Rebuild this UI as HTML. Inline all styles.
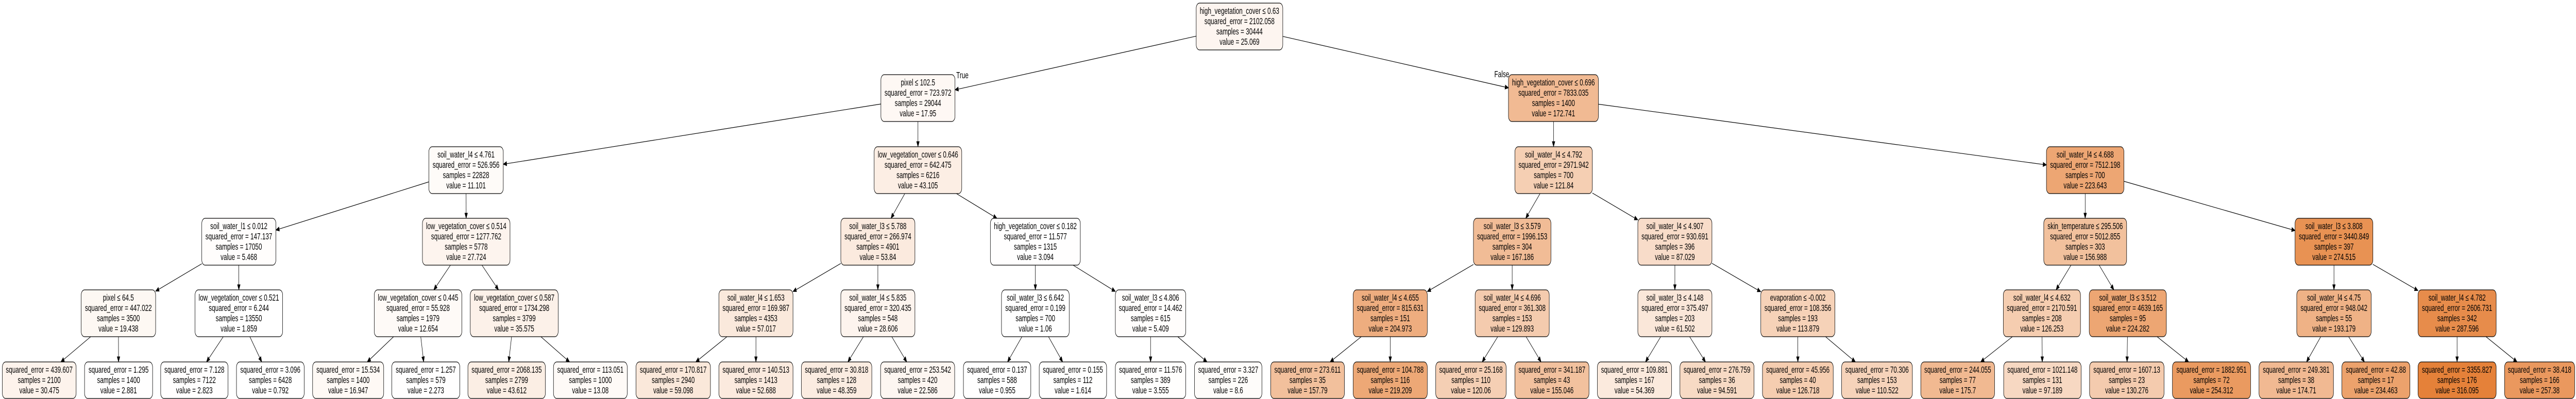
<!DOCTYPE html>
<html><head><meta charset="utf-8"><style>
html,body{margin:0;padding:0;background:#fff;width:100vw;height:100vh;overflow:hidden}
svg{display:block;width:100vw;height:100vh}
svg text{font-family:"Liberation Sans",Arial,sans-serif;font-size:18px;text-anchor:middle;fill:#000}
svg rect{stroke:#000;stroke-width:1.2}
</style></head><body>
<svg id="s" xmlns="http://www.w3.org/2000/svg" viewBox="0 0 7647 775" preserveAspectRatio="none">
<g id="edges"></g>
<g id="nodes">
<rect id="root" x="3551" y="6" width="257" height="91" rx="10" fill="#fdf5f0"/>
<text x="3679.5" y="27">high_vegetation_cover ≤ 0.63</text><text x="3679.5" y="47">squared_error = 2102.058</text><text x="3679.5" y="67">samples = 30444</text><text x="3679.5" y="87">value = 25.069</text>
<rect id="A" x="2615" y="145" width="220" height="91" rx="10" fill="#fef8f4"/>
<text x="2725" y="166">pixel ≤ 102.5</text><text x="2725" y="186">squared_error = 723.972</text><text x="2725" y="206">samples = 29044</text><text x="2725" y="226">value = 17.95</text>
<rect id="B" x="4478" y="145" width="267" height="91" rx="10" fill="#f1ba93"/>
<text x="4611.5" y="166">high_vegetation_cover ≤ 0.696</text><text x="4611.5" y="186">squared_error = 7833.035</text><text x="4611.5" y="206">samples = 1400</text><text x="4611.5" y="226">value = 172.741</text>
<text x="2857" y="152">True</text>
<text x="4458" y="150">False</text>
<rect id="C" x="1273" y="285" width="221" height="91" rx="10" fill="#fefbf8"/>
<text x="1383.5" y="306">soil_water_l4 ≤ 4.761</text><text x="1383.5" y="326">squared_error = 526.956</text><text x="1383.5" y="346">samples = 22828</text><text x="1383.5" y="366">value = 11.101</text>
<rect id="D" x="2595" y="285" width="260" height="91" rx="10" fill="#fceee4"/>
<text x="2725" y="306">low_vegetation_cover ≤ 0.646</text><text x="2725" y="326">squared_error = 642.475</text><text x="2725" y="346">samples = 6216</text><text x="2725" y="366">value = 43.105</text>
<rect id="E" x="4497" y="285" width="230" height="91" rx="10" fill="#f5cfb3"/>
<text x="4612" y="306">soil_water_l4 ≤ 4.792</text><text x="4612" y="326">squared_error = 2971.942</text><text x="4612" y="346">samples = 700</text><text x="4612" y="366">value = 121.84</text>
<rect id="F" x="6075" y="285" width="230" height="91" rx="10" fill="#eda673"/>
<text x="6190" y="306">soil_water_l4 ≤ 4.688</text><text x="6190" y="326">squared_error = 7512.198</text><text x="6190" y="346">samples = 700</text><text x="6190" y="366">value = 223.643</text>
<rect id="G" x="599" y="424" width="220" height="91" rx="10" fill="#fffdfc"/>
<text x="709" y="445">soil_water_l1 ≤ 0.012</text><text x="709" y="465">squared_error = 147.137</text><text x="709" y="485">samples = 17050</text><text x="709" y="505">value = 5.468</text>
<rect id="H" x="1254" y="424" width="260" height="91" rx="10" fill="#fdf4ee"/>
<text x="1384" y="445">low_vegetation_cover ≤ 0.514</text><text x="1384" y="465">squared_error = 1277.762</text><text x="1384" y="485">samples = 5778</text><text x="1384" y="505">value = 27.724</text>
<rect id="I" x="2496" y="424" width="220" height="91" rx="10" fill="#fbeade"/>
<text x="2606" y="445">soil_water_l3 ≤ 5.788</text><text x="2606" y="465">squared_error = 266.974</text><text x="2606" y="485">samples = 4901</text><text x="2606" y="505">value = 53.84</text>
<rect id="J" x="2940" y="424" width="267" height="91" rx="10" fill="#fffefe"/>
<text x="3073.5" y="445">high_vegetation_cover ≤ 0.182</text><text x="3073.5" y="465">squared_error = 11.577</text><text x="3073.5" y="485">samples = 1315</text><text x="3073.5" y="505">value = 3.094</text>
<rect id="K" x="4374" y="424" width="230" height="91" rx="10" fill="#f1bc96"/>
<text x="4489" y="445">soil_water_l3 ≤ 3.579</text><text x="4489" y="465">squared_error = 1996.153</text><text x="4489" y="485">samples = 304</text><text x="4489" y="505">value = 167.186</text>
<rect id="L" x="4862" y="424" width="220" height="91" rx="10" fill="#f8dcc9"/>
<text x="4972" y="445">soil_water_l4 ≤ 4.907</text><text x="4972" y="465">squared_error = 930.691</text><text x="4972" y="485">samples = 396</text><text x="4972" y="505">value = 87.029</text>
<rect id="M" x="6067" y="424" width="246" height="91" rx="10" fill="#f2c19d"/>
<text x="6190" y="445">skin_temperature ≤ 295.506</text><text x="6190" y="465">squared_error = 5012.855</text><text x="6190" y="485">samples = 303</text><text x="6190" y="505">value = 156.988</text>
<rect id="N" x="6813" y="424" width="231" height="91" rx="10" fill="#e89253"/>
<text x="6928.5" y="445">soil_water_l3 ≤ 3.808</text><text x="6928.5" y="465">squared_error = 3440.849</text><text x="6928.5" y="485">samples = 397</text><text x="6928.5" y="505">value = 274.515</text>
<rect id="O" x="241" y="563" width="221" height="91" rx="10" fill="#fdf8f3"/>
<text x="351.5" y="584">pixel ≤ 64.5</text><text x="351.5" y="604">squared_error = 447.022</text><text x="351.5" y="624">samples = 3500</text><text x="351.5" y="644">value = 19.438</text>
<rect id="P" x="579" y="563" width="260" height="91" rx="10" fill="#ffffff"/>
<text x="709" y="584">low_vegetation_cover ≤ 0.521</text><text x="709" y="604">squared_error = 6.244</text><text x="709" y="624">samples = 13550</text><text x="709" y="644">value = 1.859</text>
<rect id="Q" x="1111" y="563" width="260" height="91" rx="10" fill="#fefaf7"/>
<text x="1241" y="584">low_vegetation_cover ≤ 0.445</text><text x="1241" y="604">squared_error = 55.928</text><text x="1241" y="624">samples = 1979</text><text x="1241" y="644">value = 12.654</text>
<rect id="R" x="1396" y="563" width="261" height="91" rx="10" fill="#fcf1e9"/>
<text x="1526.5" y="584">low_vegetation_cover ≤ 0.587</text><text x="1526.5" y="604">squared_error = 1734.298</text><text x="1526.5" y="624">samples = 3799</text><text x="1526.5" y="644">value = 35.575</text>
<rect id="S" x="2134" y="563" width="220" height="91" rx="10" fill="#fae9dc"/>
<text x="2244" y="584">soil_water_l4 ≤ 1.653</text><text x="2244" y="604">squared_error = 169.987</text><text x="2244" y="624">samples = 4353</text><text x="2244" y="644">value = 57.017</text>
<rect id="T" x="2496" y="563" width="220" height="91" rx="10" fill="#fdf4ee"/>
<text x="2606" y="584">soil_water_l4 ≤ 5.835</text><text x="2606" y="604">squared_error = 320.435</text><text x="2606" y="624">samples = 548</text><text x="2606" y="644">value = 28.606</text>
<rect id="U" x="2973" y="563" width="201" height="91" rx="10" fill="#ffffff"/>
<text x="3073.5" y="584">soil_water_l3 ≤ 6.642</text><text x="3073.5" y="604">squared_error = 0.199</text><text x="3073.5" y="624">samples = 700</text><text x="3073.5" y="644">value = 1.06</text>
<rect id="V" x="3311" y="563" width="209" height="91" rx="10" fill="#fffdfc"/>
<text x="3415.5" y="584">soil_water_l3 ≤ 4.806</text><text x="3415.5" y="604">squared_error = 14.462</text><text x="3415.5" y="624">samples = 615</text><text x="3415.5" y="644">value = 5.409</text>
<rect id="W" x="4017" y="563" width="220" height="91" rx="10" fill="#eead7f"/>
<text x="4127" y="584">soil_water_l4 ≤ 4.655</text><text x="4127" y="604">squared_error = 815.631</text><text x="4127" y="624">samples = 151</text><text x="4127" y="644">value = 204.973</text>
<rect id="X" x="4379" y="563" width="220" height="91" rx="10" fill="#f4cbae"/>
<text x="4489" y="584">soil_water_l4 ≤ 4.696</text><text x="4489" y="604">squared_error = 361.308</text><text x="4489" y="624">samples = 153</text><text x="4489" y="644">value = 129.893</text>
<rect id="Y" x="4862" y="563" width="220" height="91" rx="10" fill="#fae7d9"/>
<text x="4972" y="584">soil_water_l3 ≤ 4.148</text><text x="4972" y="604">squared_error = 375.497</text><text x="4972" y="624">samples = 203</text><text x="4972" y="644">value = 61.502</text>
<rect id="Z" x="5227" y="563" width="220" height="91" rx="10" fill="#f6d2b8"/>
<text x="5337" y="584">evaporation ≤ -0.002</text><text x="5337" y="604">squared_error = 108.356</text><text x="5337" y="624">samples = 193</text><text x="5337" y="644">value = 113.879</text>
<rect id="AA" x="5947" y="563" width="229" height="91" rx="10" fill="#f5cdb0"/>
<text x="6061.5" y="584">soil_water_l4 ≤ 4.632</text><text x="6061.5" y="604">squared_error = 2170.591</text><text x="6061.5" y="624">samples = 208</text><text x="6061.5" y="644">value = 126.253</text>
<rect id="AB" x="6202" y="563" width="229" height="91" rx="10" fill="#eda673"/>
<text x="6316.5" y="584">soil_water_l3 ≤ 3.512</text><text x="6316.5" y="604">squared_error = 4639.165</text><text x="6316.5" y="624">samples = 95</text><text x="6316.5" y="644">value = 224.282</text>
<rect id="AC" x="6818" y="563" width="221" height="91" rx="10" fill="#efb286"/>
<text x="6928.5" y="584">soil_water_l4 ≤ 4.75</text><text x="6928.5" y="604">squared_error = 948.042</text><text x="6928.5" y="624">samples = 55</text><text x="6928.5" y="644">value = 193.179</text>
<rect id="AD" x="7178" y="563" width="232" height="91" rx="10" fill="#e78c4b"/>
<text x="7294" y="584">soil_water_l4 ≤ 4.782</text><text x="7294" y="604">squared_error = 2606.731</text><text x="7294" y="624">samples = 342</text><text x="7294" y="644">value = 287.596</text>
<rect id="l0" x="7" y="703" width="219" height="71" rx="10" fill="#fdf3ec"/><text x="116.5" y="724">squared_error = 439.607</text><text x="116.5" y="744">samples = 2100</text><text x="116.5" y="764">value = 30.475</text>
<rect id="l1" x="251" y="703" width="202" height="71" rx="10" fill="#fffefe"/><text x="352" y="724">squared_error = 1.295</text><text x="352" y="744">samples = 1400</text><text x="352" y="764">value = 2.881</text>
<rect id="l2" x="477" y="703" width="200" height="71" rx="10" fill="#fffefe"/><text x="577" y="724">squared_error = 7.128</text><text x="577" y="744">samples = 7122</text><text x="577" y="764">value = 2.823</text>
<rect id="l3" x="702" y="703" width="201" height="71" rx="10" fill="#ffffff"/><text x="802.5" y="724">squared_error = 3.096</text><text x="802.5" y="744">samples = 6428</text><text x="802.5" y="764">value = 0.792</text>
<rect id="l4" x="928" y="703" width="211" height="71" rx="10" fill="#fef9f5"/><text x="1033.5" y="724">squared_error = 15.534</text><text x="1033.5" y="744">samples = 1400</text><text x="1033.5" y="764">value = 16.947</text>
<rect id="l5" x="1163" y="703" width="202" height="71" rx="10" fill="#fffefe"/><text x="1264" y="724">squared_error = 1.257</text><text x="1264" y="744">samples = 579</text><text x="1264" y="764">value = 2.273</text>
<rect id="l6" x="1389" y="703" width="230" height="71" rx="10" fill="#fbeee4"/><text x="1504" y="724">squared_error = 2068.135</text><text x="1504" y="744">samples = 2799</text><text x="1504" y="764">value = 43.612</text>
<rect id="l7" x="1643" y="703" width="219" height="71" rx="10" fill="#fefaf7"/><text x="1752.5" y="724">squared_error = 113.051</text><text x="1752.5" y="744">samples = 1000</text><text x="1752.5" y="764">value = 13.08</text>
<rect id="l8" x="1888" y="703" width="221" height="71" rx="10" fill="#fae8da"/><text x="1998.5" y="724">squared_error = 170.817</text><text x="1998.5" y="744">samples = 2940</text><text x="1998.5" y="764">value = 59.098</text>
<rect id="l9" x="2134" y="703" width="220" height="71" rx="10" fill="#fbeade"/><text x="2244" y="724">squared_error = 140.513</text><text x="2244" y="744">samples = 1413</text><text x="2244" y="764">value = 52.688</text>
<rect id="l10" x="2379" y="703" width="209" height="71" rx="10" fill="#fbece1"/><text x="2483.5" y="724">squared_error = 30.818</text><text x="2483.5" y="744">samples = 128</text><text x="2483.5" y="764">value = 48.359</text>
<rect id="l11" x="2614" y="703" width="220" height="71" rx="10" fill="#fdf6f1"/><text x="2724" y="724">squared_error = 253.542</text><text x="2724" y="744">samples = 420</text><text x="2724" y="764">value = 22.586</text>
<rect id="l12" x="2860" y="703" width="200" height="71" rx="10" fill="#ffffff"/><text x="2960" y="724">squared_error = 0.137</text><text x="2960" y="744">samples = 588</text><text x="2960" y="764">value = 0.955</text>
<rect id="l13" x="3085" y="703" width="200" height="71" rx="10" fill="#fffffe"/><text x="3185" y="724">squared_error = 0.155</text><text x="3185" y="744">samples = 112</text><text x="3185" y="764">value = 1.614</text>
<rect id="l14" x="3311" y="703" width="209" height="71" rx="10" fill="#fffefd"/><text x="3415.5" y="724">squared_error = 11.576</text><text x="3415.5" y="744">samples = 389</text><text x="3415.5" y="764">value = 3.555</text>
<rect id="l15" x="3546" y="703" width="200" height="71" rx="10" fill="#fefcfa"/><text x="3646" y="724">squared_error = 3.327</text><text x="3646" y="744">samples = 226</text><text x="3646" y="764">value = 8.6</text>
<rect id="l16" x="3772" y="703" width="219" height="71" rx="10" fill="#f2c09c"/><text x="3881.5" y="724">squared_error = 273.611</text><text x="3881.5" y="744">samples = 35</text><text x="3881.5" y="764">value = 157.79</text>
<rect id="l17" x="4017" y="703" width="220" height="71" rx="10" fill="#eda876"/><text x="4127" y="724">squared_error = 104.788</text><text x="4127" y="744">samples = 116</text><text x="4127" y="764">value = 219.209</text>
<rect id="l18" x="4262" y="703" width="209" height="71" rx="10" fill="#f5cfb4"/><text x="4366.5" y="724">squared_error = 25.168</text><text x="4366.5" y="744">samples = 110</text><text x="4366.5" y="764">value = 120.06</text>
<rect id="l19" x="4497" y="703" width="220" height="71" rx="10" fill="#f2c19e"/><text x="4607" y="724">squared_error = 341.187</text><text x="4607" y="744">samples = 43</text><text x="4607" y="764">value = 155.046</text>
<rect id="l20" x="4742" y="703" width="220" height="71" rx="10" fill="#fbeadd"/><text x="4852" y="724">squared_error = 109.881</text><text x="4852" y="744">samples = 167</text><text x="4852" y="764">value = 54.369</text>
<rect id="l21" x="4987" y="703" width="220" height="71" rx="10" fill="#f7dac4"/><text x="5097" y="724">squared_error = 276.759</text><text x="5097" y="744">samples = 36</text><text x="5097" y="764">value = 94.591</text>
<rect id="l22" x="5232" y="703" width="210" height="71" rx="10" fill="#f5cdb0"/><text x="5337" y="724">squared_error = 45.956</text><text x="5337" y="744">samples = 40</text><text x="5337" y="764">value = 126.718</text>
<rect id="l23" x="5467" y="703" width="210" height="71" rx="10" fill="#f6d3ba"/><text x="5572" y="724">squared_error = 70.306</text><text x="5572" y="744">samples = 153</text><text x="5572" y="764">value = 110.522</text>
<rect id="l24" x="5702" y="703" width="219" height="71" rx="10" fill="#f1b991"/><text x="5811.5" y="724">squared_error = 244.055</text><text x="5811.5" y="744">samples = 77</text><text x="5811.5" y="764">value = 175.7</text>
<rect id="l25" x="5948" y="703" width="230" height="71" rx="10" fill="#f7d8c2"/><text x="6063" y="724">squared_error = 1021.148</text><text x="6063" y="744">samples = 131</text><text x="6063" y="764">value = 97.189</text>
<rect id="l26" x="6203" y="703" width="221" height="71" rx="10" fill="#f4cbae"/><text x="6313.5" y="724">squared_error = 1607.13</text><text x="6313.5" y="744">samples = 23</text><text x="6313.5" y="764">value = 130.276</text>
<rect id="l27" x="6449" y="703" width="232" height="71" rx="10" fill="#ea9a60"/><text x="6565" y="724">squared_error = 1882.951</text><text x="6565" y="744">samples = 72</text><text x="6565" y="764">value = 254.312</text>
<rect id="l28" x="6706" y="703" width="221" height="71" rx="10" fill="#f1b992"/><text x="6816.5" y="724">squared_error = 249.381</text><text x="6816.5" y="744">samples = 38</text><text x="6816.5" y="764">value = 174.71</text>
<rect id="l29" x="6952" y="703" width="202" height="71" rx="10" fill="#eca26c"/><text x="7053" y="724">squared_error = 42.88</text><text x="7053" y="744">samples = 17</text><text x="7053" y="764">value = 234.463</text>
<rect id="l30" x="7178" y="703" width="232" height="71" rx="10" fill="#e58139"/><text x="7294" y="724">squared_error = 3355.827</text><text x="7294" y="744">samples = 176</text><text x="7294" y="764">value = 316.095</text>
<rect id="l31" x="7435" y="703" width="208" height="71" rx="10" fill="#ea985e"/><text x="7539" y="724">squared_error = 38.418</text><text x="7539" y="744">samples = 166</text><text x="7539" y="764">value = 257.38</text>
</g>
</svg>
<script>
(function(){
var E=[["root","A"],["root","B"],["A","C"],["A","D"],["C","G"],["C","H"],["D","I"],["D","J"],
["G","O"],["G","P"],["H","Q"],["H","R"],["I","S"],["I","T"],["J","U"],["J","V"],
["O","l0"],["O","l1"],["P","l2"],["P","l3"],["Q","l4"],["Q","l5"],["R","l6"],["R","l7"],
["S","l8"],["S","l9"],["T","l10"],["T","l11"],["U","l12"],["U","l13"],["V","l14"],["V","l15"],
["B","E"],["B","F"],["E","K"],["E","L"],["F","M"],["F","N"],["K","W"],["K","X"],["L","Y"],["L","Z"],
["M","AA"],["M","AB"],["N","AC"],["N","AD"],["W","l16"],["W","l17"],["X","l18"],["X","l19"],
["Y","l20"],["Y","l21"],["Z","l22"],["Z","l23"],["AA","l24"],["AA","l25"],["AB","l26"],["AB","l27"],
["AC","l28"],["AC","l29"],["AD","l30"],["AD","l31"]];
function box(id){var r=document.getElementById(id);var x=+r.getAttribute("x"),y=+r.getAttribute("y"),w=+r.getAttribute("width"),h=+r.getAttribute("height");return {cx:x+w/2,cy:y+h/2,hw:w/2,hh:h/2};}
function clip(b,dx,dy){var t=Math.min(dx?b.hw/Math.abs(dx):1e9,dy?b.hh/Math.abs(dy):1e9);return [b.cx+dx*t,b.cy+dy*t];}
var g=document.getElementById("edges"),out="";
E.forEach(function(e){var p=box(e[0]),c=box(e[1]);var dx=c.cx-p.cx,dy=c.cy-p.cy;
var s=clip(p,dx,dy),t=clip(c,-dx,-dy);var L=Math.hypot(t[0]-s[0],t[1]-s[1]);var ux=(t[0]-s[0])/L,uy=(t[1]-s[1])/L;
var bx=t[0]-ux*10,by=t[1]-uy*10;
out+='<line x1="'+s[0]+'" y1="'+s[1]+'" x2="'+bx+'" y2="'+by+'" stroke="#000" stroke-width="1.2"/>';
out+='<polygon points="'+t[0]+','+t[1]+' '+(bx-uy*4)+','+(by+ux*4)+' '+(bx+uy*4)+','+(by-ux*4)+'" fill="#000" stroke="#000"/>';});
g.innerHTML=out;})();
</script>
</body></html>
